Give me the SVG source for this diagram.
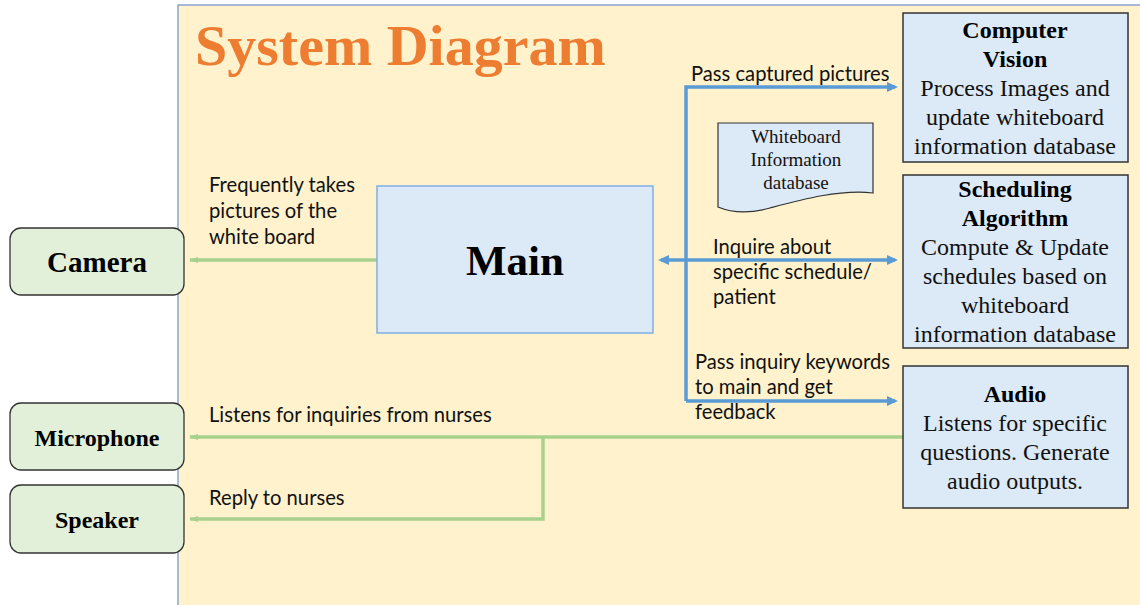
<svg xmlns="http://www.w3.org/2000/svg" width="1140" height="605" viewBox="0 0 1140 605">
<style>
.panel{fill:#FFF2CC;stroke:#6F8FCB;stroke-width:1.2}
.title{font-family:"Liberation Serif",serif;font-weight:bold;font-size:58px;fill:#ED7D31}
.hw{fill:#E2F0D9;stroke:#333;stroke-width:1.3}
.sw{fill:#DCE9F6;stroke:#333;stroke-width:1.5}
.main{fill:#DCE9F6;stroke:#7FAEE6;stroke-width:1.5}
.b{font-family:"Liberation Serif",serif;font-weight:bold;fill:#000;text-anchor:middle}
.n{font-family:"Liberation Serif",serif;fill:#111;text-anchor:middle}
.lbl{font-family:Lato,"Liberation Sans",sans-serif;font-size:20.2px;fill:#111}
.g{fill:none;stroke:#A9D18E;stroke-width:3.5}
.bl{fill:none;stroke:#5B9BD5;stroke-width:3.5}
</style>
<defs>
<marker id="ab" markerWidth="11" markerHeight="10" refX="8" refY="5" orient="auto-start-reverse" markerUnits="userSpaceOnUse" viewBox="0 0 11 10">
<path d="M0,0 L11,5 L0,10 Z" fill="#5B9BD5"/>
</marker>
<marker id="ag" markerWidth="10" markerHeight="8" refX="8" refY="4" orient="auto" markerUnits="userSpaceOnUse" viewBox="0 0 10 8">
<path d="M0,1 L9,4 L0,7 Z" fill="#A9D18E"/>
</marker>
</defs>
<rect width="1140" height="605" fill="#fff"/>
<rect class="panel" x="178" y="5" width="970" height="610"/>
<text class="title" x="195" y="65">System Diagram</text>

<g id="connectors">
<path class="g" d="M377,260 H190" marker-end="url(#ag)"/>
<path class="g" d="M903,437 H190" marker-end="url(#ag)"/>
<path class="g" d="M543,437 V519 H190" marker-end="url(#ag)"/>
<path class="bl" d="M686,401 V87 H895" marker-end="url(#ab)"/>
<path class="bl" d="M686,401 H895" marker-end="url(#ab)"/>
<path class="bl" d="M661,260 H895" marker-start="url(#ab)" marker-end="url(#ab)"/>
<text class="lbl" x="209" y="192">Frequently takes</text>
<text class="lbl" x="209" y="218">pictures of the</text>
<text class="lbl" x="209" y="244">white board</text>
<text class="lbl" x="209" y="422">Listens for inquiries from nurses</text>
<text class="lbl" x="209" y="505">Reply to nurses</text>
<text class="lbl" x="691" y="81">Pass captured pictures</text>
<text class="lbl" x="713" y="254">Inquire about</text>
<text class="lbl" x="713" y="279">specific schedule/</text>
<text class="lbl" x="713" y="304">patient</text>
<text class="lbl" x="695" y="369">Pass inquiry keywords</text>
<text class="lbl" x="695" y="394">to main and get</text>
<text class="lbl" x="695" y="419">feedback</text>
</g>

<g id="main">
<rect class="main" x="377" y="186" width="276" height="147"/>
<text class="b" x="515" y="275" font-size="43">Main</text>
</g>

<g id="camera">
<rect class="hw" x="10" y="228" width="174" height="67" rx="11"/>
<text class="b" x="97" y="272" font-size="29">Camera</text>
</g>
<g id="microphone">
<rect class="hw" x="10" y="403" width="174" height="67" rx="11"/>
<text class="b" x="97" y="446" font-size="24">Microphone</text>
</g>
<g id="speaker">
<rect class="hw" x="10" y="485" width="174" height="68" rx="11"/>
<text class="b" x="97" y="528" font-size="24">Speaker</text>
</g>

<g id="database">
<path class="sw" style="stroke-width:1.2" d="M718,123 H873 V193 C840,189 800,200 770,208 C745,215 730,212 718,207 Z"/>
<text class="n" x="796" y="143" font-size="19">Whiteboard</text>
<text class="n" x="796" y="166" font-size="19">Information</text>
<text class="n" x="796" y="189" font-size="19">database</text>
</g>

<g id="computer-vision">
<rect class="sw" x="903" y="13" width="225" height="149"/>
<text class="b" x="1015" y="38" font-size="24">Computer</text>
<text class="b" x="1015" y="67" font-size="24">Vision</text>
<text class="n" x="1015" y="96" font-size="24">Process Images and</text>
<text class="n" x="1015" y="125" font-size="24">update whiteboard</text>
<text class="n" x="1015" y="154" font-size="24">information database</text>
</g>

<g id="scheduling">
<rect class="sw" x="903" y="175" width="225" height="173"/>
<text class="b" x="1015" y="197" font-size="24">Scheduling</text>
<text class="b" x="1015" y="226" font-size="24">Algorithm</text>
<text class="n" x="1015" y="255" font-size="24">Compute &amp; Update</text>
<text class="n" x="1015" y="284" font-size="24">schedules based on</text>
<text class="n" x="1015" y="313" font-size="24">whiteboard</text>
<text class="n" x="1015" y="342" font-size="24">information database</text>
</g>

<g id="audio">
<rect class="sw" x="903" y="366" width="225" height="142"/>
<text class="b" x="1015" y="402" font-size="24">Audio</text>
<text class="n" x="1015" y="431" font-size="24">Listens for specific</text>
<text class="n" x="1015" y="460" font-size="24">questions. Generate</text>
<text class="n" x="1015" y="489" font-size="24">audio outputs.</text>
</g>
</svg>
